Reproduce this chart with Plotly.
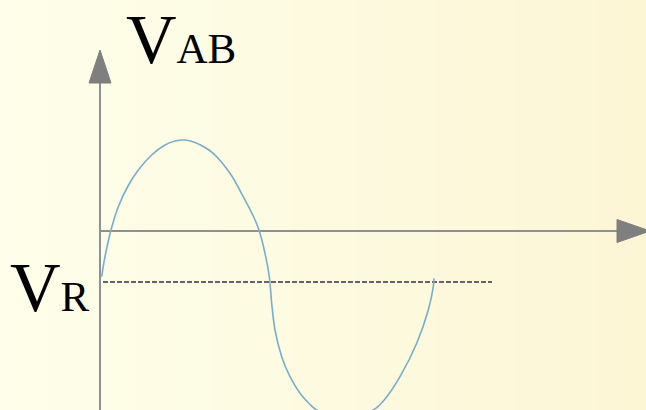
import plotly.graph_objects as go

# ---- data (t in arbitrary time units, v in arbitrary volts) ----
t_vals = [0.017, 0.05, 0.11, 0.183, 0.283, 0.383, 0.517, 0.65, 0.75, 0.85,
          0.95, 1.05, 1.133, 1.30, 1.433, 1.533, 1.59, 1.65, 1.693, 1.717, 1.75,
          1.817, 1.90, 2.00, 2.10, 2.167, 2.45, 2.733, 2.85, 3.00, 3.167,
          3.283, 3.333, 3.34]
v_vals = [-0.457, -0.257, 0.01, 0.243, 0.455, 0.61, 0.76, 0.86, 0.9, 0.91,
          0.885, 0.835, 0.777, 0.577, 0.343, 0.15, 0.01, -0.223, -0.457, -0.723, -0.99,
          -1.257, -1.457, -1.623, -1.735, -1.79, -1.89, -1.79, -1.68, -1.457, -1.123,
          -0.79, -0.557, -0.473]
v_ref = -0.51            # V_R level
ref_t = [0.03, 3.92]     # extent of the dashed V_R line

X_RANGE = [-1.0, 5.46]
Y_RANGE = [-1.79, 2.31]
Y_AXIS_TOP = 1.48
X_AXIS_END = 5.17

W, H = 646, 410
fig = go.Figure()

# background gradient strips
n = 40
c0 = (254, 254, 234)
c1 = (252, 246, 213)
for i in range(n):
    f = i / (n - 1)
    col = tuple(round(c0[k] + (c1[k] - c0[k]) * f) for k in range(3))
    fig.add_shape(type="rect", xref="paper", yref="paper", x0=i / n, x1=(i + 1) / n + 0.002,
                  y0=0, y1=1, line_width=0, fillcolor="rgb(%d,%d,%d)" % col, layer="below")

axis_col = "#8e9098"
head_col = "#7f7f7f"
# vertical axis
fig.add_trace(go.Scatter(x=[0, 0], y=[Y_RANGE[0], Y_AXIS_TOP], mode="lines",
                         line=dict(color=axis_col, width=2), hoverinfo="skip"))
fig.add_trace(go.Scatter(x=[-0.11, 0.11, 0, -0.11], y=[Y_AXIS_TOP, Y_AXIS_TOP, 1.81, Y_AXIS_TOP],
                         mode="lines", fill="toself", fillcolor=head_col,
                         line=dict(color=head_col, width=1), hoverinfo="skip"))
# horizontal axis
fig.add_trace(go.Scatter(x=[0, X_AXIS_END], y=[0, 0], mode="lines",
                         line=dict(color=axis_col, width=2), hoverinfo="skip"))
fig.add_trace(go.Scatter(x=[X_AXIS_END, X_AXIS_END, 5.50, X_AXIS_END], y=[-0.115, 0.115, 0, -0.115],
                         mode="lines", fill="toself", fillcolor=head_col,
                         line=dict(color=head_col, width=1), hoverinfo="skip"))
# V_R dashed line
fig.add_trace(go.Scatter(x=ref_t, y=[v_ref, v_ref], mode="lines",
                         line=dict(color="#66626c", width=1.8, dash="5px,2px"), hoverinfo="skip"))
# waveform
fig.add_trace(go.Scatter(x=t_vals, y=v_vals, mode="lines", line_shape="spline",
                         line=dict(color="#78aecb", width=1.6, smoothing=1.0), hoverinfo="skip"))

font = dict(family="Liberation Serif, Times New Roman, serif", color="black", size=70)
fig.add_annotation(xref="paper", yref="paper", x=125 / W, y=1.0, xanchor="left", yanchor="top",
                   text="V<span style='font-size:43px'>AB</span>", showarrow=False, font=font,
                   borderpad=0)
fig.add_annotation(xref="paper", yref="paper", x=8 / W, y=1 - 328 / H, xanchor="left", yanchor="bottom",
                   text="V<span style='font-size:43px'>R</span>", showarrow=False, font=font)

fig.update_layout(width=W, height=H, margin=dict(l=0, r=0, t=0, b=0),
                  paper_bgcolor="rgba(0,0,0,0)", plot_bgcolor="rgba(0,0,0,0)",
                  showlegend=False,
                  xaxis=dict(range=X_RANGE, visible=False, fixedrange=True),
                  yaxis=dict(range=Y_RANGE, visible=False, fixedrange=True))
fig.write_html("out.html", config={"displayModeBar": False, "responsive": False},
               post_script="document.body.style.margin='0';")
